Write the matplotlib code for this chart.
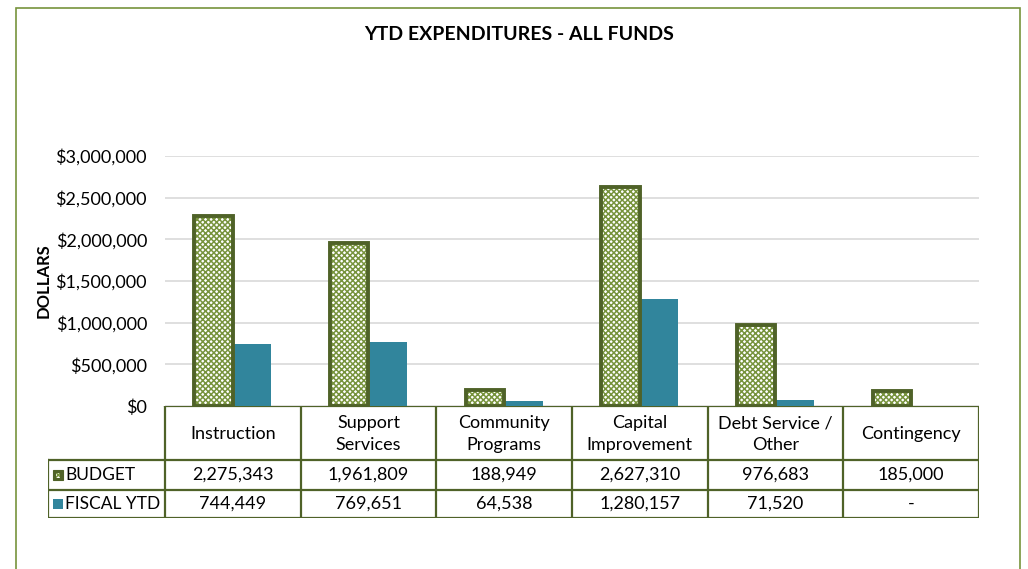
import matplotlib.pyplot as plt
from matplotlib.patches import Rectangle
from matplotlib.ticker import FuncFormatter

categories = ['Instruction', 'Support\nServices', 'Community\nPrograms',
              'Capital\nImprovement', 'Debt Service /\nOther', 'Contingency']
budget = [2275343, 1961809, 188949, 2627310, 976683, 185000]
fiscal_ytd = [744449, 769651, 64538, 1280157, 71520, 0]
series_names = ['BUDGET', 'FISCAL YTD']

DARK = '#4F6228'
LIGHT = '#77933C'
TEAL = '#31859C'

plt.rcParams['font.family'] = ['Lato', 'DejaVu Sans']

W, H = 1028, 569
fig = plt.figure(figsize=(W / 100, H / 100), dpi=100)


def px(x0, y0, x1, y1):
    # pixel box -> figure fraction [left, bottom, width, height]
    return [x0 / W, 1 - y1 / H, (x1 - x0) / W, (y1 - y0) / H]


# outer green frame (bottom runs off the image)
fig.add_artist(Rectangle((16 / W, -0.05), (1020 - 16) / W, 1.05 - 8 / H,
                         transform=fig.transFigure, fill=False,
                         edgecolor=LIGHT, linewidth=1.2))

fig.text(0.505, 1 - 35 / H, 'YTD EXPENDITURES - ALL FUNDS', ha='center',
         va='center', fontsize=14, fontweight='bold')

ax = fig.add_axes(px(165, 156, 979, 406))
n = len(categories)
xs = list(range(n))
bw = 0.285
bx = [x - bw / 2 for x in xs]
fx = [x + bw / 2 for x in xs]

plt.rcParams['hatch.linewidth'] = 1.1
ax.bar(bx, budget, bw, color='white', hatch='xxxxxx', edgecolor=LIGHT,
       linewidth=0, zorder=2)
ax.bar(bx, budget, bw, facecolor='none', edgecolor=DARK, linewidth=2.8,
       zorder=3)
ax.bar(fx, fiscal_ytd, bw, color=TEAL, zorder=2)

ax.set_xlim(-0.5, n - 0.5)
ax.set_ylim(0, 3000000)
ax.set_yticks(range(0, 3000001, 500000))
ax.yaxis.set_major_formatter(FuncFormatter(lambda v, p: '${:,.0f}'.format(v)))
ax.tick_params(axis='y', length=0, labelsize=13, pad=13)
ax.set_xticks([])
ax.grid(axis='y', color='#D9D9D9', linewidth=1.2, zorder=0)
for s in ax.spines.values():
    s.set_visible(False)
ax.set_ylabel('DOLLARS', fontsize=12, fontweight='bold', labelpad=3)

# data table under the chart
lx = -0.5 - (165 - 48) / (814 / n)
tab = fig.add_axes(px(48, 406, 979, 518))
tab.set_xlim(lx, n - 0.5)
tab.set_ylim(112, 0)
tab.axis('off')
rows = [0, 54, 84, 112]
lw = 1.6
tab.plot([-0.5, n - 0.5], [rows[0], rows[0]], color=DARK, lw=lw)
for i in range(n + 1):
    tab.plot([i - 0.5, i - 0.5], [rows[0], rows[3]], color=DARK, lw=lw)
for r in rows[1:]:
    tab.plot([lx, n - 0.5], [r, r], color=DARK, lw=lw)
tab.plot([lx, lx], [rows[1], rows[3]], color=DARK, lw=lw)

fs = 13
for i, c in enumerate(categories):
    tab.text(i, (rows[0] + rows[1]) / 2 + 1, c, ha='center', va='center',
             fontsize=fs, linespacing=1.45)
for i in range(n):
    tab.text(i, (rows[1] + rows[2]) / 2, '{:,}'.format(budget[i]),
             ha='center', va='center', fontsize=fs)
    fv = fiscal_ytd[i]
    tab.text(i, (rows[2] + rows[3]) / 2, '{:,}'.format(fv) if fv else '-',
             ha='center', va='center', fontsize=fs)

# legend keys
kx = lx + 0.04
kw = 0.068
for j, name in enumerate(series_names):
    yc = (rows[j + 1] + rows[j + 2]) / 2
    if j == 0:
        tab.add_patch(Rectangle((kx, yc - 5), kw, 10, facecolor=DARK,
                                edgecolor=DARK, lw=0.8))
        tab.add_patch(Rectangle((kx + kw * 0.25, yc - 2.5), kw * 0.5, 5,
                                facecolor='white', hatch='xxxx',
                                edgecolor=LIGHT, lw=0))
    else:
        tab.add_patch(Rectangle((kx, yc - 5), kw, 10, facecolor=TEAL,
                                edgecolor=TEAL, lw=0))
    tab.text(kx + kw + 0.02, yc, name, ha='left', va='center', fontsize=12.5)

fig.savefig('out.png', dpi=100)
